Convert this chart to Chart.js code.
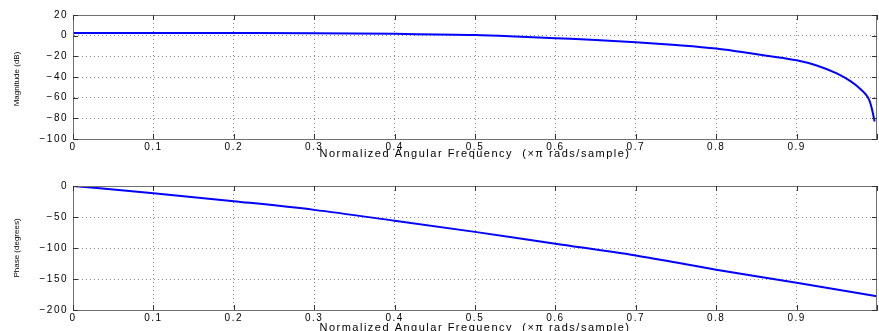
<!DOCTYPE html>
<html>
<head>
<meta charset="utf-8">
<script src="https://cdn.jsdelivr.net/npm/chart.js@4/dist/chart.umd.min.js"></script>
<style>
  html, body { margin: 0; padding: 0; background: #fff; overflow: hidden; }
  .box { position: absolute; left: 0; width: 879px; }
  #top { top: 0; height: 165px; }
  #bottom { top: 165px; height: 166px; }
</style>
</head>
<body>
<div class="box" id="top"><canvas id="magChart"></canvas></div>
<div class="box" id="bottom"><canvas id="phaseChart"></canvas></div>
<script>
// Magnitude response (dB)
const magFreq = [0, 0.1, 0.2, 0.3, 0.4, 0.5, 0.55, 0.6, 0.65, 0.7, 0.75, 0.8, 0.83, 0.865, 0.9, 0.925, 0.95, 0.967, 0.979, 0.988, 0.991, 0.994, 0.997];
const magDb = [2.7, 2.7, 2.6, 2.4, 1.8, 0.6, -0.8, -2.5, -4.1, -6.3, -9.0, -12.4, -15.6, -19.6, -23.8, -28.8, -36.5, -44, -51.3, -58.8, -63.5, -72, -83];

// Phase response (degrees)
const phaseFreq = [0, 0.1, 0.2, 0.3, 0.4, 0.5, 0.6, 0.7, 0.8, 0.9, 1.0];
const phaseDeg = [0, -11.5, -24.5, -38.5, -56, -74, -93, -112, -135, -156, -178];

const magTicks = [20, 0, -20, -40, -60, -80, -100];
const phaseTicks = [0, -50, -100, -150, -200];
const xTitle = 'Normalized Angular Frequency  (\u00d7\u03c0 rads/sample)';

const FONT = 'Liberation Sans, Arial, sans-serif';

function toPoints(xs, ys) {
    return xs.map((x, i) => ({ x: x, y: ys[i] }));
}

function minus(v) {
    return String(v).replace('-', '\u2212');
}

// wide lettering like the old MATLAB fonts
const spacingPlugin = {
    id: 'spacing',
    beforeDraw(chart) { chart.ctx.letterSpacing = '1.5px'; },
    afterDraw(chart) { chart.ctx.letterSpacing = '0px'; }
};

// box, inward ticks and rotated y label
const framePlugin = {
    id: 'frame',
    afterDraw(chart, args, opts) {
        const ctx = chart.ctx;
        const a = chart.chartArea;
        const xs = chart.scales.x, ys = chart.scales.y;
        ctx.save();
        ctx.letterSpacing = '0px';
        ctx.strokeStyle = '#707070';
        ctx.lineWidth = 1;
        ctx.strokeRect(a.left + 0.5, a.top + 0.5, a.right - a.left - 1, a.bottom - a.top);
        ctx.strokeStyle = '#333';
        ctx.beginPath();
        xs.ticks.forEach(t => {
            const px = Math.round(xs.getPixelForValue(t.value)) + 0.5;
            ctx.moveTo(px, a.bottom); ctx.lineTo(px, a.bottom - 5);
            ctx.moveTo(px, a.top); ctx.lineTo(px, a.top + 5);
        });
        ys.ticks.forEach(t => {
            const py = Math.round(ys.getPixelForValue(t.value)) + 0.5;
            ctx.moveTo(a.left, py); ctx.lineTo(a.left + 5, py);
            ctx.moveTo(a.right, py); ctx.lineTo(a.right - 5, py);
        });
        ctx.stroke();
        ctx.fillStyle = '#000';
        ctx.font = '8px ' + FONT;
        ctx.textAlign = 'center';
        ctx.textBaseline = 'middle';
        ctx.translate(17, (a.top + a.bottom) / 2 + opts.dy);
        ctx.rotate(-Math.PI / 2);
        ctx.fillText(opts.label, 0, 0);
        ctx.restore();
    }
};

function makeChart(id, points, yMin, yMax, yStep, yTicks, yLabel, padTop, xHeight, titlePad, labelDy) {
    return new Chart(document.getElementById(id), {
        type: 'line',
        data: {
            datasets: [{
                data: points,
                borderColor: '#0000ff',
                borderWidth: 2,
                pointRadius: 0,
                cubicInterpolationMode: 'monotone',
                fill: false
            }]
        },
        options: {
            responsive: true,
            maintainAspectRatio: false,
            animation: false,
            events: [],
            layout: { padding: { top: padTop, right: 1, left: 0, bottom: 0 } },
            plugins: {
                legend: { display: false },
                tooltip: { enabled: false },
                frame: { label: yLabel, dy: labelDy }
            },
            scales: {
                x: {
                    type: 'linear',
                    min: 0,
                    max: 1,
                    afterFit: s => { s.height = xHeight; },
                    grid: {
                        color: ctx => (ctx.tick && (ctx.tick.value <= 0 || ctx.tick.value >= 0.999)) ? 'rgba(0,0,0,0)' : '#8a8a8a',
                        drawTicks: false,
                        lineWidth: 1
                    },
                    border: { display: true, color: '#707070', dash: [1, 3] },
                    ticks: {
                        stepSize: 0.1,
                        padding: 2,
                        maxRotation: 0,
                        autoSkip: false,
                        color: '#000',
                        font: { family: FONT, size: 10 },
                        callback: v => v === 0 ? '0' : (v >= 0.999 ? '' : v.toFixed(1))
                    },
                    title: {
                        display: true,
                        text: xTitle,
                        color: '#000',
                        font: { family: FONT, size: 11 },
                        padding: { top: 0, bottom: titlePad }
                    }
                },
                y: {
                    min: yMin,
                    max: yMax,
                    afterFit: s => { s.width = 73; },
                    afterBuildTicks: s => { s.ticks = yTicks.map(v => ({ value: v })); },
                    grid: {
                        color: ctx => (ctx.tick && (ctx.tick.value === yMin || ctx.tick.value === yMax)) ? 'rgba(0,0,0,0)' : '#8a8a8a',
                        drawTicks: false,
                        lineWidth: 1
                    },
                    border: { display: true, color: '#707070', dash: [1, 3] },
                    ticks: {
                        stepSize: yStep,
                        padding: 5,
                        color: '#000',
                        font: { family: FONT, size: 10 },
                        callback: v => minus(v)
                    }
                }
            }
        },
        plugins: [spacingPlugin, framePlugin]
    });
}

makeChart('magChart', toPoints(magFreq, magDb), -100, 20, 20, magTicks, 'Magnitude (dB)', 15, 26, 4, 2);
makeChart('phaseChart', toPoints(phaseFreq, phaseDeg), -200, 0, 50, phaseTicks, 'Phase (degrees)', 21, 21, -4, 0);
</script>
</body>
</html>
